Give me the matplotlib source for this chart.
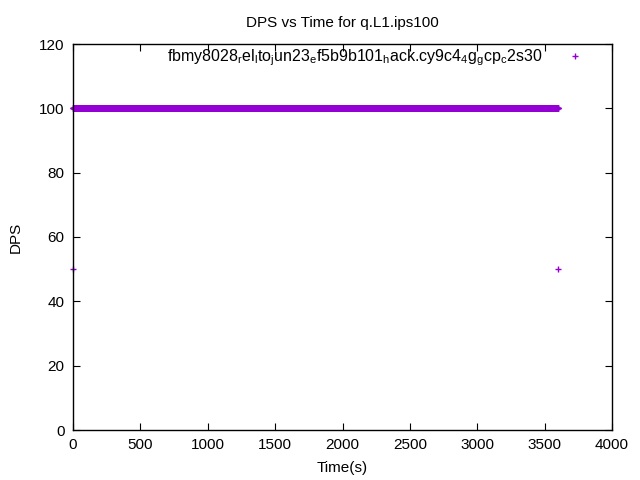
import matplotlib
matplotlib.use("Agg")
import matplotlib.pyplot as plt
import numpy as np

plt.rcParams['font.family'] = ['Liberation Sans', 'DejaVu Sans']
plt.rcParams['mathtext.default'] = 'regular'

# DPS sampled every second, steady at 100, with 50 at both ends
time_s = np.arange(0, 3601)
dps = np.full(time_s.shape, 100.0)
dps[0] = 50.0
dps[-1] = 50.0

label = (r"fbmy8028$_{r}$el$_{l}$to$_{j}$un23$_{e}$f5b9b101$_{h}$ack."
         r"cy9c4$_{4}$g$_{g}$cp$_{c}$2s30")

fig = plt.figure(figsize=(6.4, 4.8), dpi=100)
ax = fig.add_axes([73 / 640, 1 - 430 / 480, (612 - 73) / 640, (430 - 44) / 480])

ax.plot(time_s, dps, linestyle='none', marker='+', markersize=5,
        markeredgewidth=1.0, color='#9400d3', label=label, clip_on=False)

ax.set_xlim(0, 4000)
ax.set_ylim(0, 120)
ax.set_xticks(np.arange(0, 4001, 500))
ax.set_yticks(np.arange(0, 121, 20))
ax.tick_params(direction='in', top=True, right=True, length=5, labelsize=11,
               pad=6)
for s in ax.spines.values():
    s.set_linewidth(1.0)

ax.set_title("DPS vs Time for q.L1.ips100", fontsize=11, pad=12)
ax.set_xlabel("Time(s)", fontsize=11, labelpad=6)
ax.set_ylabel("DPS", fontsize=11, labelpad=12)

ax.legend(loc='upper right', frameon=False, markerfirst=False, fontsize=11.5,
          handlelength=2.0, borderaxespad=0.0, bbox_to_anchor=(0.972, 1.008),
          handletextpad=1.0)

fig.savefig("out.png", dpi=100)
